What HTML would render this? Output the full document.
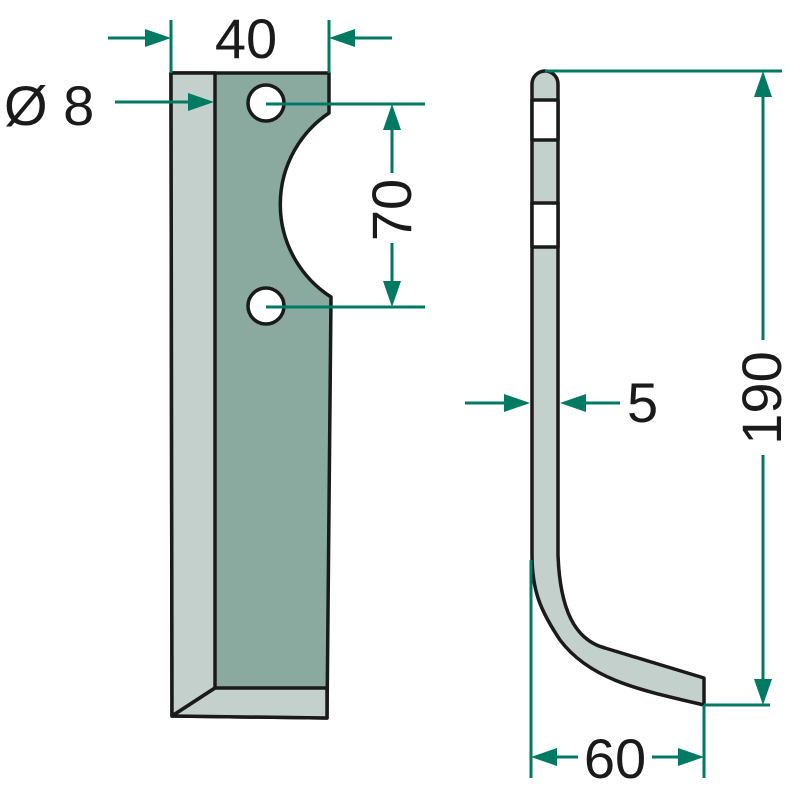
<!DOCTYPE html>
<html><head><style>html,body{margin:0;padding:0;background:#fff}</style></head>
<body>
<svg width="800" height="800" viewBox="0 0 800 800" xmlns="http://www.w3.org/2000/svg">
<g stroke="#1a1a1a" stroke-width="3.5" stroke-linejoin="round">
<path d="M171,73 L329,73 L329,113 A110,110 0 0 0 331,297 L327,718 L172,716 Z" fill="#8aaaa0"/>
<path d="M171,73 L215,73 L215,688 L172,716 Z" fill="#c3d0cc"/>
<path d="M215,688 L327,688 L327,718 L172,716 Z" fill="#c3d0cc"/>
<circle cx="266" cy="103" r="18" fill="#fff"/>
<circle cx="266" cy="306" r="18" fill="#fff"/>
<path d="M532,84 A13,13 0 0 1 558,84 L558,555 C560,610 575,640 605,648 L704,678 L704,705 C640,690 590,680 560,640 C540,610 532,590 532,555 Z" fill="#c3d0cc"/>
<rect x="532" y="100" width="26" height="40" fill="#fff"/>
<rect x="532" y="203" width="26" height="44" fill="#fff"/>
</g>
<g stroke="#007a63" stroke-width="3" fill="none">
<line x1="171" y1="20" x2="171" y2="73"/><line x1="329" y1="20" x2="329" y2="73"/>
<line x1="108" y1="38" x2="150" y2="38"/><line x1="350" y1="38" x2="392" y2="38"/>
<line x1="115" y1="102" x2="195" y2="102"/>
<line x1="266" y1="104" x2="425" y2="104"/><line x1="266" y1="307" x2="425" y2="307"/>
<line x1="392" y1="125" x2="392" y2="173"/><line x1="392" y1="243" x2="392" y2="287"/>
<line x1="545" y1="71" x2="782" y2="71"/>
<line x1="763" y1="92" x2="763" y2="340"/><line x1="763" y1="455" x2="763" y2="684"/>
<line x1="704" y1="705" x2="770" y2="705"/>
<line x1="465" y1="403" x2="510" y2="403"/><line x1="580" y1="403" x2="620" y2="403"/>
<line x1="531" y1="560" x2="531" y2="778"/><line x1="704" y1="705" x2="704" y2="778"/>
<line x1="550" y1="757" x2="578" y2="757"/><line x1="652" y1="757" x2="685" y2="757"/>
</g>
<g fill="#007a63">
<polygon points="171,38 145,29 145,47"/>
<polygon points="329,38 355,29 355,47"/>
<polygon points="214,102 188,93 188,111"/>
<polygon points="392,104 383,130 401,130"/>
<polygon points="392,307 383,281 401,281"/>
<polygon points="763,71 754,97 772,97"/>
<polygon points="763,705 754,679 772,679"/>
<polygon points="530,403 504,394 504,412"/>
<polygon points="560,403 586,394 586,412"/>
<polygon points="531,757 557,748 557,766"/>
<polygon points="704,757 678,748 678,766"/>
</g>
<g font-family="Liberation Sans, sans-serif" font-size="56" fill="#1a1a1a">
<text x="246" y="58" text-anchor="middle">40</text>
<text x="4" y="125">Ø 8</text>
<text x="411" y="210" text-anchor="middle" transform="rotate(-90 411 210)">70</text>
<text x="781" y="398" text-anchor="middle" transform="rotate(-90 781 398)">190</text>
<text x="627" y="422">5</text>
<text x="615" y="778" text-anchor="middle">60</text>
</g>
</svg>
</body></html>
